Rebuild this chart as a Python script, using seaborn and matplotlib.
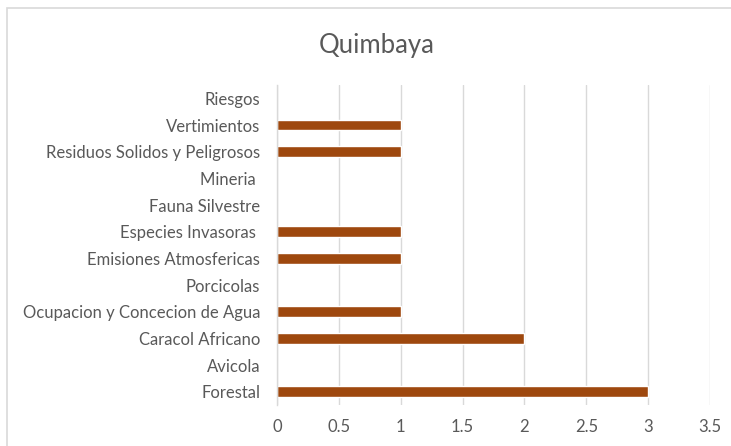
import matplotlib
matplotlib.use("Agg")
import matplotlib.pyplot as plt
import seaborn as sns
import pandas as pd
from matplotlib.patches import Rectangle

categories = ["Riesgos", "Vertimientos", "Residuos Solidos y Peligrosos", "Mineria ",
              "Fauna Silvestre", "Especies Invasoras ", "Emisiones Atmosfericas",
              "Porcicolas", "Ocupacion y Concecion de Agua", "Caracol Africano",
              "Avicola", "Forestal"]
values = [0, 1, 1, 0, 0, 1, 1, 0, 1, 2, 0, 3]
x_ticks = [0, 0.5, 1, 1.5, 2, 2.5, 3, 3.5]
x_tick_labels = ["0", "0.5", "1", "1.5", "2", "2.5", "3", "3.5"]
title = "Quimbaya"

sns.set_theme(style="white")
plt.rcParams["font.family"] = ["Lato", "DejaVu Sans"]

df = pd.DataFrame({"cat": categories, "val": values})

fig = plt.figure(figsize=(7.31, 4.46), dpi=100)
ax = fig.add_axes([277/731, 1-405/446, (710-277)/731, (405-85)/446])

sns.barplot(data=df, x="val", y="cat", orient="h", color="#9E480E",
            width=0.4, saturation=1, ax=ax, order=categories)

ax.set_xlim(0, 3.5)
ax.set_xticks(x_ticks)
ax.set_xticklabels(x_tick_labels)
ax.set_ylim(11.5, -0.5)
ax.set_xlabel("")
ax.set_ylabel("")
ax.grid(axis="x", color="#D9D9D9", linewidth=1)
ax.set_axisbelow(True)
for s in ["top", "right", "bottom"]:
    ax.spines[s].set_visible(False)
ax.spines["left"].set_color("#D9D9D9")
ax.spines["left"].set_linewidth(1)
ax.tick_params(axis="both", length=0, colors="#595959", labelsize=12)
ax.tick_params(axis="y", pad=12)
ax.tick_params(axis="x", pad=10)

fig.text(377/731, 1-45/446, title, ha="center", va="center", fontsize=18.5, color="#595959")

fig.patches.append(Rectangle((7/731, -0.1), 1.2, 1-8/446+0.1, transform=fig.transFigure,
                             fill=False, edgecolor="#D9D9D9", linewidth=1.2, figure=fig))

fig.savefig("out.png", dpi=100)
